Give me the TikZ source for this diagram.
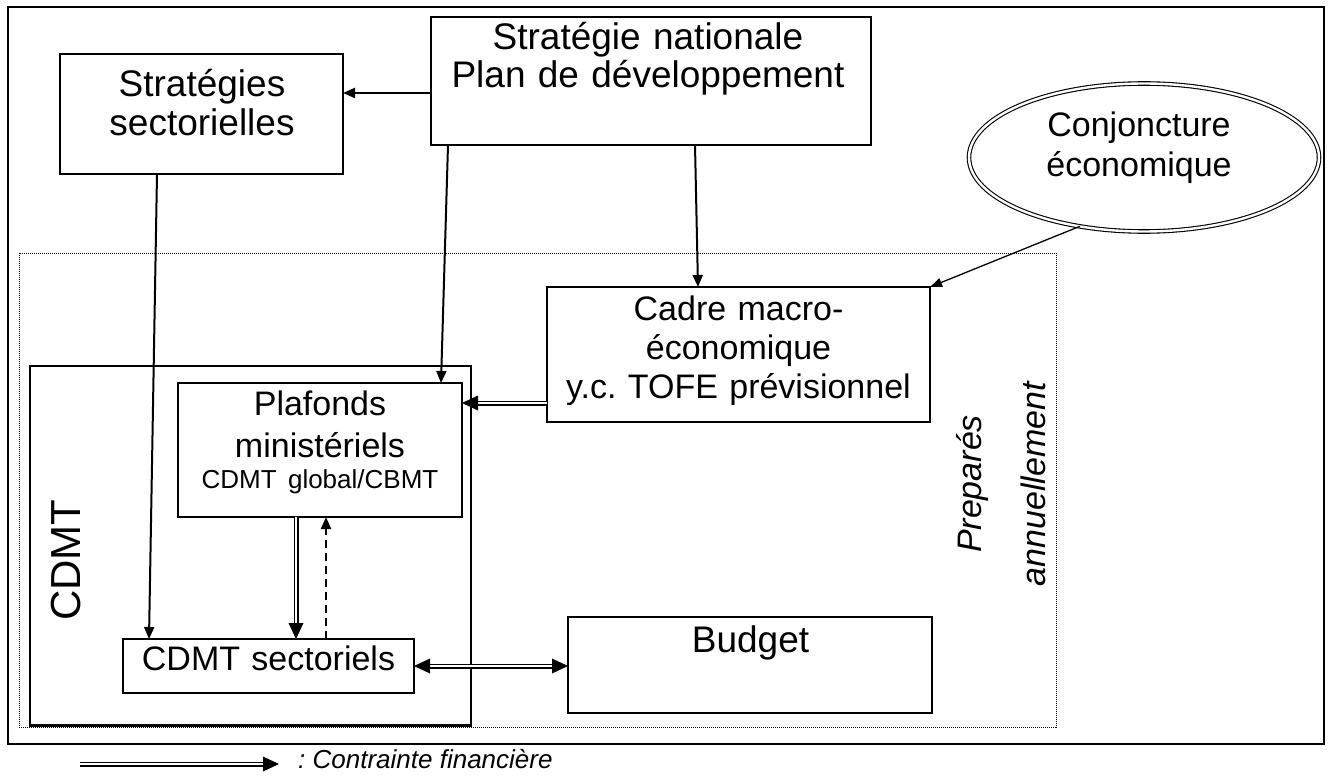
\documentclass[tikz,border=0pt]{standalone}
\usepackage{fontspec}
\setmainfont{Liberation Sans}
\usetikzlibrary{arrows.meta, shapes.geometric, decorations.markings, fit}
\begin{document}
\begin{tikzpicture}[x=1pt, y=-1pt,
  every node/.style={execute at begin node=\frenchspacing},
  box/.style={draw, line width=1.3pt, inner sep=0pt, outer sep=0pt},
  thickbox/.style={draw, line width=2.4pt, inner sep=0pt, outer sep=0pt},
  txt/.style={align=center, anchor=base, inner sep=0pt, outer sep=0pt},
  big/.style={font=\fontsize{37}{39}\selectfont},
  mid/.style={font=\fontsize{34}{39}\selectfont},
  arr/.style={line width=2pt, -{Triangle[length=12pt, width=10pt]}},
  thinarr/.style={line width=1.3pt, -{Triangle[length=12pt, width=9pt]}},
  dasharr/.style={line width=2pt, dash pattern=on 8pt off 5pt, -{Triangle[length=12pt, width=10pt]}},
  dblline/.style={double, double distance=2.6pt, line width=1.2pt},
  headend/.style={postaction={decorate, decoration={markings, mark=at position 1 with {\fill[black, shorten >=0pt, shorten <=0pt] (0pt,0pt) -- (-16pt,7.5pt) -- (-16pt,-7.5pt) -- cycle;}}}},
  headstart/.style={postaction={decorate, decoration={markings, mark=at position 0 with {\fill[black, shorten >=0pt, shorten <=0pt] (0pt,0pt) -- (16pt,7.5pt) -- (16pt,-7.5pt) -- cycle;}}}},
  fin/.style={dblline, shorten >=14pt, headend},
  finboth/.style={dblline, shorten >=14pt, shorten <=14pt, headend, headstart}
]
\useasboundingbox (0,0) rectangle (1335,778);

% outer frame and annual zone
\draw[line width=2.4pt] (8,7) rectangle (1324,744);
\draw[line width=1pt, dash pattern=on 1pt off 1pt] (19,253) rectangle (1056,727);

% boxes
\node[box, fit={(431,17) (871,145)}] (stratnat) {};
\node[box, fit={(60,54) (343,174)}] (stratsec) {};
\node[box, fit={(547,287) (930,422)}] (cadre) {};
\node[thickbox, fit={(30,366) (471,725.5)}] (cdmt) {};
\node[box, fit={(178,383) (462,517)}] (plaf) {};
\node[box, fit={(123,639) (414,693)}] (cdmtsec) {};
\node[box, fit={(568,617) (932,713)}] (budget) {};
\node[ellipse, draw, double, double distance=2.4pt, line width=1.1pt,
      minimum width=350pt, minimum height=148pt, inner sep=0pt, outer sep=0pt] (conj) at (1144,157.5) {};

% texts
\node[txt, text width=430pt, font=\fontsize{37}{38}\selectfont] (stratnatT) at (648,50) {Stratégie nationale\\Plan de développement};
\node[txt, big, text width=280pt] (stratsecT) at (202,97) {Stratégies\\sectorielles};
\node[txt, text width=300pt, font=\fontsize{34}{40}\selectfont] (conjT) at (1139,137) {Conjoncture\\économique};
\node[txt, mid, text width=380pt] (cadreT) at (738.5,320) {Cadre macro-\\économique\\y.c. TOFE prévisionnel};
\node[txt, text width=280pt, font=\fontsize{34}{42}\selectfont] (plafT) at (320,415) {Plafonds\\ministériels\\[-11pt]{\fontsize{26}{31}\selectfont CDMT global/CBMT}};
\node[txt, mid, text width=290pt] (cdmtsecT) at (268.5,670) {CDMT sectoriels};
\node[txt, big, text width=300pt] (budgetT) at (750.5,652) {Budget};
\node[inner sep=0pt, rotate=90, font=\fontsize{42}{46}\selectfont] (cdmtT) at (66,560) {CDMT};
\node[txt, rotate=90, text width=260pt, font=\itshape\fontsize{34}{64}\selectfont] (prepT) at (981,484) {Preparés\\annuellement};

% connectors
\draw[arr] (stratnat.west |- 0,93) -- (stratsec.east |- 0,93);
\draw[arr] (stratsec.south -| 157,0) -- (cdmtsec.north -| 149,0);
\draw[arr] (stratnat.south -| 448,0) -- (plaf.north -| 441,0);
\draw[arr] (stratnat.south -| 695,0) -- (cadre.north -| 698,0);
\draw[thinarr] (conj.227) -- (cadre.north east);
\draw[fin] (cadre.west |- 0,403) -- (plaf.east |- 0,403);
\draw[fin] (plaf.south -| 296,0) -- (cdmtsec.north -| 296,0);
\draw[dasharr] (cdmtsec.north -| 326,0) -- (plaf.south -| 326,0);
\draw[finboth] (cdmtsec.east) -- (budget.west |- cdmtsec.east);

% legend
\coordinate (legA) at (80,764);
\coordinate (legB) at (279,764);
\draw[fin] (legA) -- (legB);
\node[inner sep=0pt, anchor=base west, font=\itshape\fontsize{26}{30}\selectfont] (legT) at (298,768) {: Contrainte financière};
\end{tikzpicture}
\end{document}
